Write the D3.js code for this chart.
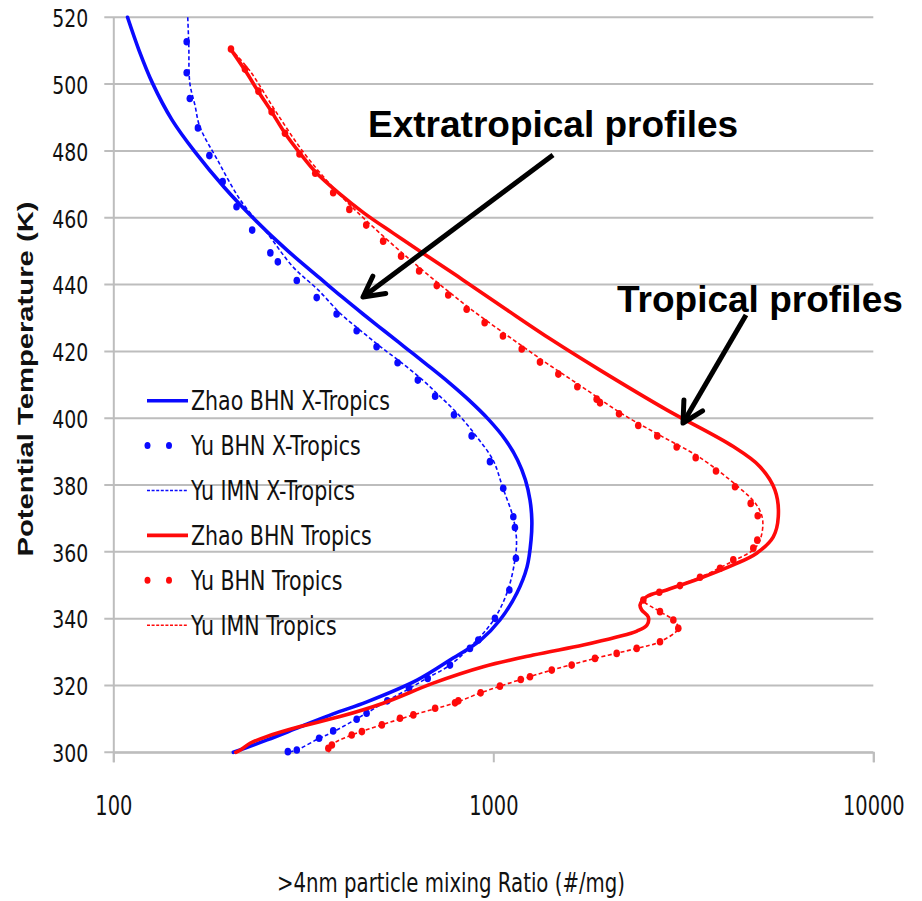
<!DOCTYPE html>
<html>
<head>
<meta charset="utf-8">
<script src="https://cdn.jsdelivr.net/npm/d3@7"></script>
<style>
  html, body { margin: 0; padding: 0; background: #fff; }
  svg { display: block; }
</style>
</head>
<body>
<svg id="chart" width="922" height="901"></svg>
<script>
// ---- Axis ticks ----
const thetaTicks = [300, 320, 340, 360, 380, 400, 420, 440, 460, 480, 500, 520];
const concTicks = [100, 1000, 10000];

// ---- Zhao BHN X-Tropics (theta K, concentration #/mg) ----
const zhaoXTheta = [520, 510.2, 500.3, 489.3, 479.7, 469.2, 460.0, 450.3, 441.4, 436.3, 431.2, 426.1, 421.0, 415.9, 410.8, 405.4, 399.5, 393.5, 387.5, 381.5, 375.5, 369.5, 363.5, 355.5, 347.7, 339.6, 333.6, 327.6, 321.6, 315.1, 311.5, 307.6, 303.7, 300.0];
const zhaoXConc  = [109, 116.8, 126.8, 142.7, 164, 195.5, 233, 286.5, 354, 400, 454, 517, 589, 671, 762, 863, 974, 1077, 1158, 1215, 1249, 1263, 1257, 1227, 1154, 1041, 926, 769, 630, 465, 379, 310, 254, 207];

// ---- Yu BHN X-Tropics ----
const yuBhnXTheta = [512.7, 503.4, 495.7, 486.9, 478.6, 470.8, 463.3, 456.3, 449.5, 446.8, 441.2, 436.1, 431.2, 426.2, 421.4, 416.6, 411.4, 406.6, 401.0, 394.7, 387.0, 379.0, 370.5, 367.3, 358.1, 348.6, 340.1, 333.6, 331.1, 326.1, 322.1, 319.2, 315.4, 311.7, 309.9, 306.4, 304.2, 300.7, 300.2];
const yuBhnXConc  = [156, 156, 159, 167, 179, 194, 211, 232, 259, 271, 304, 343, 387, 437, 493, 560, 633, 703, 788, 877, 980, 1062, 1129, 1140, 1147, 1102, 1010, 913, 868, 769, 672, 600, 526, 464, 437, 379, 348, 304, 288];

// ---- Yu IMN X-Tropics ----
const yuImnXTheta = [520, 511.7, 500.3, 493.7, 487.2, 477.3, 465.3, 455.4, 445.3, 438.4, 431.2, 426.1, 421.3, 416.5, 411.4, 406.6, 401.0, 394.7, 387.5, 379.1, 370.4, 363.5, 357.6, 348.6, 340.2, 333.6, 326.1, 322.2, 319.2, 315.4, 311.8, 306.1, 304.0, 300.7, 300.0];
const yuImnXConc  = [157, 158, 159, 164, 169, 188, 216, 254, 297, 346, 397, 449, 506, 575, 652, 723, 811, 901, 998, 1060, 1127, 1151, 1140, 1093, 1010, 906, 769, 669, 604, 525, 465, 379, 346, 304, 288];

// ---- Zhao BHN Tropics ----
const zhaoTTheta = [510.7, 504.2, 497.7, 491.7, 485.3, 479.3, 473.8, 467.3, 461.4, 455.4, 449.4, 441.4, 432.4, 423.4, 414.4, 402.5, 391.5, 385.5, 378.5, 370.5, 364.5, 359.6, 356.1, 352.1, 348.6, 346.6, 344.1, 342.6, 340.5, 338.1, 336.3, 334.5, 332.1, 329.1, 325.6, 320.7, 314.7, 310.7, 307.7, 304.7, 302.7, 300.7, 300.0];
const zhaoTConc  = [203, 222, 241, 261, 283, 310, 340, 393, 457, 545, 653, 832, 1087, 1427, 1909, 2860, 4281, 5033, 5511, 5623, 5455, 4934, 4281, 3499, 2860, 2534, 2433, 2458, 2558, 2538, 2388, 2112, 1725, 1274, 941, 695, 513, 395, 310, 253, 229, 216, 210];

// ---- Yu BHN Tropics ----
const yuBhnTTheta = [510.5, 504.5, 497.9, 491.7, 485.3, 479.1, 473.3, 467.5, 462.5, 457.8, 453.0, 448.5, 444.1, 439.7, 436.9, 432.6, 428.6, 424.6, 420.7, 416.8, 413.2, 409.4, 405.7, 404.6, 401.3, 397.8, 394.7, 391.4, 388.2, 384.2, 379.5, 374.5, 370.8, 363.5, 361.1, 357.6, 355.1, 352.4, 349.9, 347.9, 345.6, 342.1, 339.6, 337.1, 333.1, 331.1, 329.6, 328.1, 326.1, 324.6, 322.6, 321.8, 319.8, 317.8, 315.4, 314.8, 313.2, 311.2, 310.2, 308.2, 306.2, 305.2, 302.2, 301.2];
const yuBhnTConc  = [204, 222, 241, 261, 283, 309, 340, 379, 418, 463, 513, 572, 638, 710, 761, 851, 949, 1060, 1188, 1327, 1483, 1664, 1871, 1909, 2142, 2407, 2701, 3038, 3409, 3855, 4326, 4758, 4964, 4951, 4833, 4281, 3951, 3499, 3099, 2734, 2482, 2746, 2977, 3068, 2746, 2384, 2112, 1852, 1608, 1425, 1249, 1181, 1041, 926, 809, 793, 703, 616, 568, 509, 451, 424, 376, 368];

// ---- Yu IMN Tropics ----
const yuImnTTheta = [510.7, 504.2, 491.7, 479.3, 467.5, 457.8, 448.5, 439.7, 432.6, 424.6, 416.8, 409.4, 401.3, 394.7, 388.2, 379.5, 374.0, 369.5, 363.5, 360.6, 357.3, 352.4, 347.9, 345.6, 342.1, 339.6, 337.1, 333.1, 331.1, 328.1, 324.6, 321.8, 317.8, 314.8, 311.2, 308.2, 305.2, 302.2, 300.0];
const yuImnTConc  = [203, 228, 268, 318, 390, 477, 589, 729, 874, 1093, 1368, 1712, 2182, 2762, 3499, 4405, 4934, 5116, 5033, 4833, 4281, 3499, 2734, 2482, 2746, 2977, 3068, 2746, 2384, 1852, 1425, 1181, 926, 793, 616, 509, 424, 376, 369];

const legendLabels = ["Zhao BHN X-Tropics", "Yu BHN X-Tropics", "Yu IMN X-Tropics",
                      "Zhao BHN Tropics", "Yu BHN Tropics", "Yu IMN Tropics"];

const BLUE = "#0a0aff", RED = "#ff0a0a", GRID = "#bdbdbd";
const NARROW = "'Liberation Sans Narrow','Arial Narrow','DejaVu Sans Condensed',sans-serif";
const BOLD = "'Liberation Sans',Arial,sans-serif";

const zip = (t, c) => t.map((v, i) => ({ theta: v, conc: c[i] }));

const series = [
  { name: legendLabels[0], data: zip(zhaoXTheta, zhaoXConc),   color: BLUE, kind: "solid" },
  { name: legendLabels[1], data: zip(yuBhnXTheta, yuBhnXConc), color: BLUE, kind: "dots" },
  { name: legendLabels[2], data: zip(yuImnXTheta, yuImnXConc), color: BLUE, kind: "dash" },
  { name: legendLabels[3], data: zip(zhaoTTheta, zhaoTConc),   color: RED,  kind: "solid" },
  { name: legendLabels[4], data: zip(yuBhnTTheta, yuBhnTConc), color: RED,  kind: "dots" },
  { name: legendLabels[5], data: zip(yuImnTTheta, yuImnTConc), color: RED,  kind: "dash" }
];

// Squeeze a text selection horizontally by a common factor so the
// reference string renders at the requested width.
function condense(sel, refNode, refWidth) {
  const f = refWidth / refNode.getComputedTextLength();
  sel.each(function () {
    const w = this.getComputedTextLength();
    d3.select(this).attr("textLength", w * f).attr("lengthAdjust", "spacingAndGlyphs");
  });
}

const svg = d3.select("#chart");

const x = d3.scaleLog().domain([100, 10000]).range([113.3, 873.3]);
const y = d3.scaleLinear().domain([300, 520]).range([752.3, 17.3]);

// Horizontal gridlines
svg.append("g").selectAll("line").data(thetaTicks).join("line")
  .attr("x1", x(100) - 9).attr("x2", x(10000))
  .attr("y1", d => y(d)).attr("y2", d => y(d))
  .attr("stroke", GRID).attr("stroke-width", 2);

// Left axis line and labels
const yAxisG = svg.append("g").attr("transform", `translate(${x(100)},0)`)
  .call(d3.axisLeft(y).tickValues(thetaTicks).tickSize(0).tickPadding(25).tickFormat(d3.format("d")));
yAxisG.select(".domain").attr("stroke", GRID).attr("stroke-width", 2);
const yLabels = yAxisG.selectAll("text")
  .attr("font-family", NARROW).attr("font-size", 25).attr("fill", "#111")
  .attr("dy", "0.37em");
condense(yLabels, yLabels.nodes()[0], 36);

// Bottom axis
const xAxisG = svg.append("g").attr("transform", `translate(0,${y(300)})`)
  .call(d3.axisBottom(x).tickValues(concTicks).tickSize(10).tickFormat(d3.format("d")));
xAxisG.select(".domain").attr("stroke", GRID).attr("stroke-width", 2);
xAxisG.selectAll(".tick line").attr("stroke", GRID).attr("stroke-width", 2);
const xLabels = xAxisG.selectAll("text")
  .attr("font-family", NARROW).attr("font-size", 27).attr("fill", "#111")
  .attr("y", 63).attr("dy", 0);
condense(xLabels, xLabels.nodes()[0], 37);

// Axis titles
svg.append("text")
  .attr("x", 451).attr("y", 892)
  .attr("text-anchor", "middle")
  .attr("font-family", NARROW).attr("font-size", 26).attr("fill", "#111")
  .attr("textLength", 348).attr("lengthAdjust", "spacingAndGlyphs")
  .text(">4nm particle mixing Ratio (#/mg)");

svg.append("text")
  .attr("transform", "translate(33,379) rotate(-90)")
  .attr("text-anchor", "middle")
  .attr("font-family", BOLD).attr("font-weight", "bold").attr("font-size", 22).attr("fill", "#111")
  .attr("textLength", 355).attr("lengthAdjust", "spacingAndGlyphs")
  .text("Potential Temperature (K)");

// Profiles
const line = d3.line()
  .x(d => x(d.conc)).y(d => y(d.theta))
  .curve(d3.curveCatmullRom.alpha(0.5));

const plot = svg.append("g");
series.filter(s => s.kind === "dash").forEach(s => {
  plot.append("path").datum(s.data)
    .attr("d", line).attr("fill", "none")
    .attr("stroke", s.color).attr("stroke-width", 1.6)
    .attr("stroke-dasharray", "4,2.5");
});
series.filter(s => s.kind === "dots").forEach(s => {
  plot.append("g").selectAll("ellipse").data(s.data).join("ellipse")
    .attr("cx", d => x(d.conc)).attr("cy", d => y(d.theta))
    .attr("rx", 3.3).attr("ry", 3.8)
    .attr("fill", s.color);
});
series.filter(s => s.kind === "solid").forEach(s => {
  plot.append("path").datum(s.data)
    .attr("d", line).attr("fill", "none")
    .attr("stroke", s.color).attr("stroke-width", 3.6)
    .attr("stroke-linecap", "round");
});

// Legend
const legend = svg.append("g");
series.forEach((s, i) => {
  const cy = 400.7 + i * 44.9;
  const row = legend.append("g");
  if (s.kind === "solid") {
    row.append("line").attr("x1", 147).attr("x2", 188).attr("y1", cy).attr("y2", cy)
      .attr("stroke", s.color).attr("stroke-width", 3.6);
  } else if (s.kind === "dash") {
    row.append("line").attr("x1", 147).attr("x2", 188).attr("y1", cy).attr("y2", cy)
      .attr("stroke", s.color).attr("stroke-width", 1.5).attr("stroke-dasharray", "3,1.6");
  } else {
    [147.5, 169].forEach(cx => row.append("ellipse")
      .attr("cx", cx).attr("cy", cy).attr("rx", 3).attr("ry", 3.5).attr("fill", s.color));
  }
  row.append("text").attr("class", "legend-label").attr("x", 191).attr("y", cy + 9.5)
    .attr("font-family", NARROW).attr("font-size", 26).attr("fill", "#111")
    .text(s.name);
});
const legendTexts = legend.selectAll(".legend-label");
condense(legendTexts, legendTexts.nodes()[0], 199);

// Annotations with arrows
const notes = [
  { text: "Extratropical profiles", tx: 368, ty: 137, from: [553, 155], to: [363, 297] },
  { text: "Tropical profiles",      tx: 617, ty: 312, from: [746, 315], to: [683, 423] }
];
notes.forEach(n => {
  svg.append("text").attr("x", n.tx).attr("y", n.ty)
    .attr("font-family", BOLD).attr("font-weight", "bold").attr("font-size", 37).attr("fill", "#000")
    .text(n.text);
  const [x0, y0] = n.from, [x1, y1] = n.to;
  svg.append("line").attr("x1", x0).attr("y1", y0).attr("x2", x1).attr("y2", y1)
    .attr("stroke", "#000").attr("stroke-width", 5);
  const back = Math.atan2(y0 - y1, x0 - x1);
  const len = 23, spread = 28 * Math.PI / 180;
  const b1 = [x1 + len * Math.cos(back - spread), y1 + len * Math.sin(back - spread)];
  const b2 = [x1 + len * Math.cos(back + spread), y1 + len * Math.sin(back + spread)];
  svg.append("path")
    .attr("d", `M${b1[0]},${b1[1]}L${x1},${y1}L${b2[0]},${b2[1]}`)
    .attr("fill", "none").attr("stroke", "#000").attr("stroke-width", 5)
    .attr("stroke-linejoin", "round").attr("stroke-linecap", "round");
});
</script>
</body>
</html>
